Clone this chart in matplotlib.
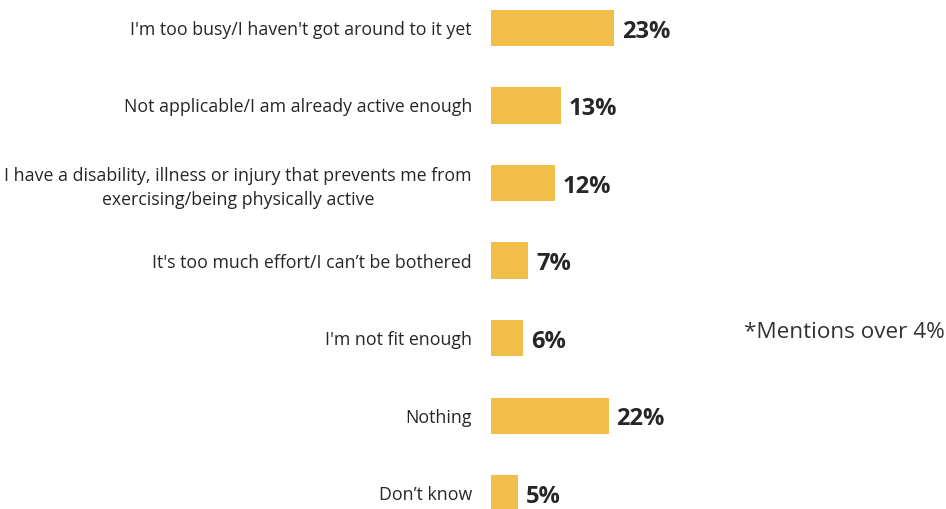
import matplotlib.pyplot as plt

# Reasons for not being more active (share of mentions)
categories = [
    "I'm too busy/I haven't got around to it yet",
    "Not applicable/I am already active enough",
    "I have a disability, illness or injury that prevents me from\nexercising/being physically active",
    "It's too much effort/I can\u2019t be bothered",
    "I'm not fit enough",
    "Nothing",
    "Don\u2019t know",
]
values = [23, 13, 12, 7, 6, 22, 5]
value_labels = ["23%", "13%", "12%", "7%", "6%", "22%", "5%"]

plt.rcParams['font.family'] = ['Open Sans', 'DejaVu Sans']

fig = plt.figure(figsize=(9.46, 5.09), dpi=100)
ax = fig.add_axes([491 / 946, 0, 455 / 946, 1])

pos = list(range(len(categories)))
ax.barh(pos, values, height=0.465, color="#F1BE4A")

for p, v, lab in zip(pos, values, value_labels):
    ax.text(v + 1.45, p + 0.05, lab, va="center", ha="left",
            fontsize=17, fontweight="bold", color="#262626")

ax.set_xlim(0, 85)
ax.set_ylim(6.206, -0.361)
ax.set_yticks(pos)
ax.set_yticklabels(categories, fontsize=12.8, color="#262626",
                   multialignment="center", linespacing=1.45)
ax.tick_params(axis="y", length=0, pad=13.7)
ax.set_xticks([])
for s in ax.spines.values():
    s.set_visible(False)

fig.text(945 / 946, 1 - 332 / 509, "*Mentions over 4%", ha="right", va="center",
         fontsize=16.2, color="#333333")

fig.savefig("out.png", dpi=100)
